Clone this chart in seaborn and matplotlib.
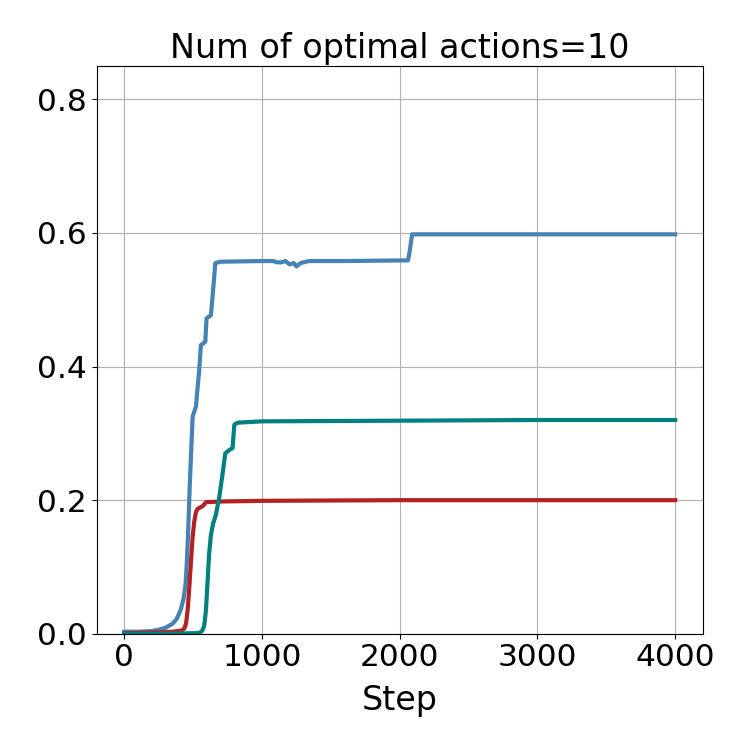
import seaborn as sns
import matplotlib.pyplot as plt
import pandas as pd

# --- data ---
blue_steps = [0, 100, 200, 250, 300, 350, 380, 410, 430, 445, 455, 465, 475, 496, 520, 544, 556, 588, 597, 629, 641, 661,
              700, 1000, 1080, 1110, 1140, 1170, 1200, 1230, 1250, 1280, 1340, 1600, 2060, 2070, 2090, 3000, 4000]
blue_vals = [0.003, 0.003, 0.004, 0.006, 0.009, 0.015, 0.022, 0.036, 0.052, 0.075, 0.11, 0.16, 0.22, 0.325, 0.34, 0.395, 0.432, 0.437, 0.472, 0.477, 0.505, 0.555,
             0.557, 0.558, 0.558, 0.556, 0.556, 0.558, 0.553, 0.555, 0.550, 0.555, 0.558, 0.558, 0.559, 0.57, 0.598, 0.598, 0.598]

red_steps = [0, 200, 350, 420, 436, 448, 460, 472, 484, 496, 508, 520, 532, 569, 593, 700, 1000, 2000, 3000, 4000]
red_vals = [0.001, 0.002, 0.003, 0.005, 0.008, 0.015, 0.035, 0.07, 0.108, 0.145, 0.168, 0.182, 0.187, 0.191, 0.197, 0.198, 0.199, 0.2, 0.2, 0.2]

teal_steps = [0, 300, 540, 565, 580, 593, 605, 616, 629, 645, 665, 690, 714, 733, 762, 786, 799, 823, 1000, 2000, 3000, 4000]
teal_vals = [0.0, 0.0, 0.001, 0.004, 0.012, 0.035, 0.08, 0.12, 0.148, 0.165, 0.178, 0.205, 0.24, 0.27, 0.275, 0.278, 0.313, 0.316, 0.318, 0.319, 0.32, 0.32]

series_names = ["blue", "red", "teal"]
series_colors = {"blue": "steelblue", "red": "firebrick", "teal": "teal"}

df = pd.concat([
    pd.DataFrame({"Step": blue_steps, "value": blue_vals, "series": "blue"}),
    pd.DataFrame({"Step": red_steps, "value": red_vals, "series": "red"}),
    pd.DataFrame({"Step": teal_steps, "value": teal_vals, "series": "teal"}),
], ignore_index=True)

fig, ax = plt.subplots(figsize=(7.5, 7.5), dpi=100)

sns.lineplot(data=df, x="Step", y="value", hue="series", hue_order=series_names,
             palette=series_colors, estimator=None, linewidth=3, legend=False, ax=ax)

ax.set_ylim(0, 0.85)
ax.set_yticks([0.0, 0.2, 0.4, 0.6, 0.8])
ax.set_xticks([0, 1000, 2000, 3000, 4000])
ax.grid(True)
ax.set_axisbelow(True)
ax.set_title("Num of optimal actions=10", fontsize=24)
ax.set_xlabel("Step", fontsize=24, labelpad=8)
ax.set_ylabel("")
ax.tick_params(labelsize=22.5)

plt.subplots_adjust(left=0.129, right=0.937, top=0.912, bottom=0.155)
plt.savefig("out.png")
